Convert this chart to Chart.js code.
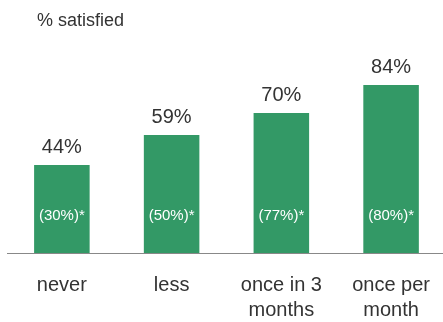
<!DOCTYPE html>
<html>
<head>
<meta charset="utf-8">
<script src="https://cdn.jsdelivr.net/npm/chart.js@4"></script>
<style>
  html, body { margin: 0; padding: 0; background: #fff; overflow: hidden; }
  #wrap { width: 443px; height: 322px; overflow: hidden; }
</style>
</head>
<body>
<div id="wrap"><canvas id="chart" width="450" height="322"></canvas></div>
<script>
// chart data
const categories = [['never'], ['less'], ['once in 3', 'months'], ['once per', 'month']];
const satisfied = [44, 59, 70, 84];
const innerLabels = ['(30%)*', '(50%)*', '(77%)*', '(80%)*'];
const titleText = '% satisfied';

const FONT = '"Liberation Sans", Arial, Helvetica, sans-serif';
const TEXT = '#333333';
const GREEN = '#339966';

// draws the title, value labels above bars and the footnote values inside bars
const labelPlugin = {
    id: 'barLabels',
    afterDatasetsDraw(chart) {
        const ctx = chart.ctx;
        const meta = chart.getDatasetMeta(0);
        ctx.save();
        ctx.textAlign = 'center';
        ctx.textBaseline = 'middle';
        meta.data.forEach((bar, i) => {
            ctx.fillStyle = TEXT;
            ctx.font = '20px ' + FONT;
            ctx.fillText(satisfied[i] + '%', bar.x, bar.y - 18);
            ctx.fillStyle = '#ffffff';
            ctx.font = '15px ' + FONT;
            ctx.fillText(innerLabels[i], bar.x, bar.base - 37);
        });
        ctx.textAlign = 'left';
        ctx.fillStyle = TEXT;
        ctx.font = '18px ' + FONT;
        ctx.fillText(titleText, 37, 21);
        ctx.restore();
    }
};

new Chart(document.getElementById('chart'), {
    type: 'bar',
    data: {
        labels: categories,
        datasets: [{
            data: satisfied,
            backgroundColor: GREEN,
            borderWidth: 0,
            barPercentage: 0.506,
            categoryPercentage: 1.0
        }]
    },
    options: {
        responsive: false,
        animation: false,
        layout: { padding: { top: 53, left: 7, right: 0, bottom: 0 } },
        plugins: {
            legend: { display: false },
            tooltip: { enabled: false },
            title: { display: false }
        },
        scales: {
            y: {
                display: false,
                min: 0,
                max: 100
            },
            x: {
                afterFit(scale) { scale.height = 69; },
                grid: { display: false, drawTicks: false },
                border: { display: true, color: '#888888', width: 1 },
                ticks: {
                    color: TEXT,
                    padding: 20,
                    maxRotation: 0,
                    autoSkip: false,
                    font: { family: FONT, size: 20, lineHeight: 1.25 }
                }
            }
        }
    },
    plugins: [labelPlugin]
});
</script>
</body>
</html>
